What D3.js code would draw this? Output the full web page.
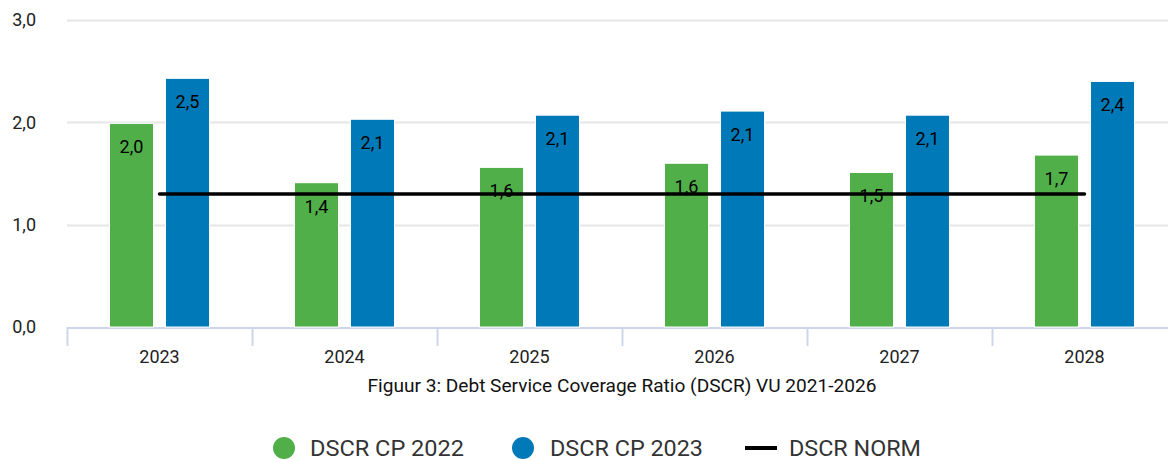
<!DOCTYPE html>
<html>
<head>
<meta charset="utf-8">
<script src="https://cdn.jsdelivr.net/npm/d3@7"></script>
<style>
  html, body { margin: 0; padding: 0; background: #fff; }
  svg { display: block; font-family: Roboto, "Noto Sans", sans-serif; }
</style>
</head>
<body>
<svg id="chart" width="1168" height="460"></svg>
<script>
// ---- data ----
const categories = ["2023", "2024", "2025", "2026", "2027", "2028"];
const seriesNames = ["DSCR CP 2022", "DSCR CP 2023", "DSCR NORM"];
const cp2022 = [1.99, 1.41, 1.56, 1.60, 1.51, 1.68];
const cp2023 = [2.43, 2.03, 2.07, 2.11, 2.07, 2.40];
const cp2022Labels = ["2,0", "1,4", "1,6", "1,6", "1,5", "1,7"];
const cp2023Labels = ["2,5", "2,1", "2,1", "2,1", "2,1", "2,4"];
const norm = [1.3, 1.3, 1.3, 1.3, 1.3, 1.3];
const yTicks = [0, 1, 2, 3];
const yTickLabels = ["0,0", "1,0", "2,0", "3,0"];
const caption = "Figuur 3: Debt Service Coverage Ratio (DSCR) VU 2021-2026";

// ---- layout ----
const colors = { g: "#51af4a", b: "#0079b8", n: "#000000" };
const plot = { left: 67, right: 1177, top: 20, bottom: 327 };
const svg = d3.select("#chart");

const x = d3.scaleBand().domain(categories).range([plot.left, plot.right]).padding(0);
const x1 = d3.scaleBand().domain(["g", "b"]).range([42.5, 142.5]).paddingInner(0.214);
const y = d3.scaleLinear().domain([0, 3]).range([plot.bottom, plot.top]);

// gridlines
svg.append("g").selectAll("line").data(yTicks.filter(d => d > 0)).join("line")
  .attr("x1", plot.left).attr("x2", 1168)
  .attr("y1", d => Math.round(y(d)) + 0.5).attr("y2", d => Math.round(y(d)) + 0.5)
  .attr("stroke", "#e6e6e6").attr("stroke-width", 2);

// y labels
svg.append("g").selectAll("text").data(yTicks).join("text")
  .attr("x", 36).attr("y", d => y(d)).attr("dy", "0.35em")
  .attr("text-anchor", "end").attr("font-size", 18).attr("fill", "#222")
  .text((d, i) => yTickLabels[i]);

// x axis
const xAxis = d3.axisBottom(x).tickSize(0).tickPadding(0);
const xg = svg.append("g").attr("transform", `translate(0,${plot.bottom})`).call(xAxis);
xg.select(".domain").remove();
xg.selectAll("text").attr("font-size", 18).attr("fill", "#222").attr("font-family", "Roboto, sans-serif")
  .attr("dy", 0).attr("y", 36);
svg.append("line").attr("x1", plot.left).attr("x2", 1168)
  .attr("y1", plot.bottom + 1).attr("y2", plot.bottom + 1)
  .attr("stroke", "#ccd6eb").attr("stroke-width", 2);
svg.append("g").selectAll("line").data(categories).join("line")
  .attr("x1", d => x(d) + 0.5).attr("x2", d => x(d) + 0.5)
  .attr("y1", plot.bottom).attr("y2", plot.bottom + 19)
  .attr("stroke", "#ccd6eb").attr("stroke-width", 2);

// bars
const barData = [];
categories.forEach((c, i) => {
  barData.push({ c, s: "g", v: cp2022[i], label: cp2022Labels[i] });
  barData.push({ c, s: "b", v: cp2023[i], label: cp2023Labels[i] });
});
svg.append("g").selectAll("rect").data(barData).join("rect")
  .attr("x", d => x(d.c) + x1(d.s))
  .attr("width", x1.bandwidth())
  .attr("y", d => y(d.v))
  .attr("height", d => y(0) - y(d.v))
  .attr("fill", d => colors[d.s])
  .attr("stroke", "#fff").attr("stroke-width", 1);

// data labels
svg.append("g").selectAll("text").data(barData).join("text")
  .attr("x", d => x(d.c) + x1(d.s) + x1.bandwidth() / 2)
  .attr("y", d => y(d.v) + 30)
  .attr("text-anchor", "middle").attr("font-size", 18).attr("fill", "#000")
  .text(d => d.label);

// norm line
const line = d3.line().x((d, i) => x(categories[i]) + x.bandwidth() / 2).y(d => y(d));
svg.append("path").datum(norm).attr("d", line)
  .attr("fill", "none").attr("stroke", colors.n).attr("stroke-width", 3.5)
  .attr("stroke-linecap", "round");

// caption
svg.append("text").attr("x", (plot.left + plot.right) / 2).attr("y", 392)
  .attr("text-anchor", "middle").attr("font-size", 17.5).attr("fill", "#111")
  .attr("textLength", 509).attr("lengthAdjust", "spacingAndGlyphs")
  .text(caption);

// legend
const legend = [
  { name: seriesNames[0], type: "circle", color: colors.g, x: 284, tx: 310, w: 154 },
  { name: seriesNames[1], type: "circle", color: colors.b, x: 523, tx: 550, w: 153 },
  { name: seriesNames[2], type: "line", color: colors.n, x: 761, tx: 789, w: 132 }
];
const lg = svg.append("g");
legend.forEach(l => {
  if (l.type === "circle") {
    lg.append("circle").attr("cx", l.x).attr("cy", 448).attr("r", 11).attr("fill", l.color);
  } else {
    lg.append("line").attr("x1", l.x - 16).attr("x2", l.x + 16).attr("y1", 448).attr("y2", 448)
      .attr("stroke", l.color).attr("stroke-width", 4);
  }
  lg.append("text").attr("x", l.tx).attr("y", 456).attr("font-size", 22.5).attr("fill", "#333")
    .attr("textLength", l.w).attr("lengthAdjust", "spacingAndGlyphs")
    .text(l.name);
});
</script>
</body>
</html>
